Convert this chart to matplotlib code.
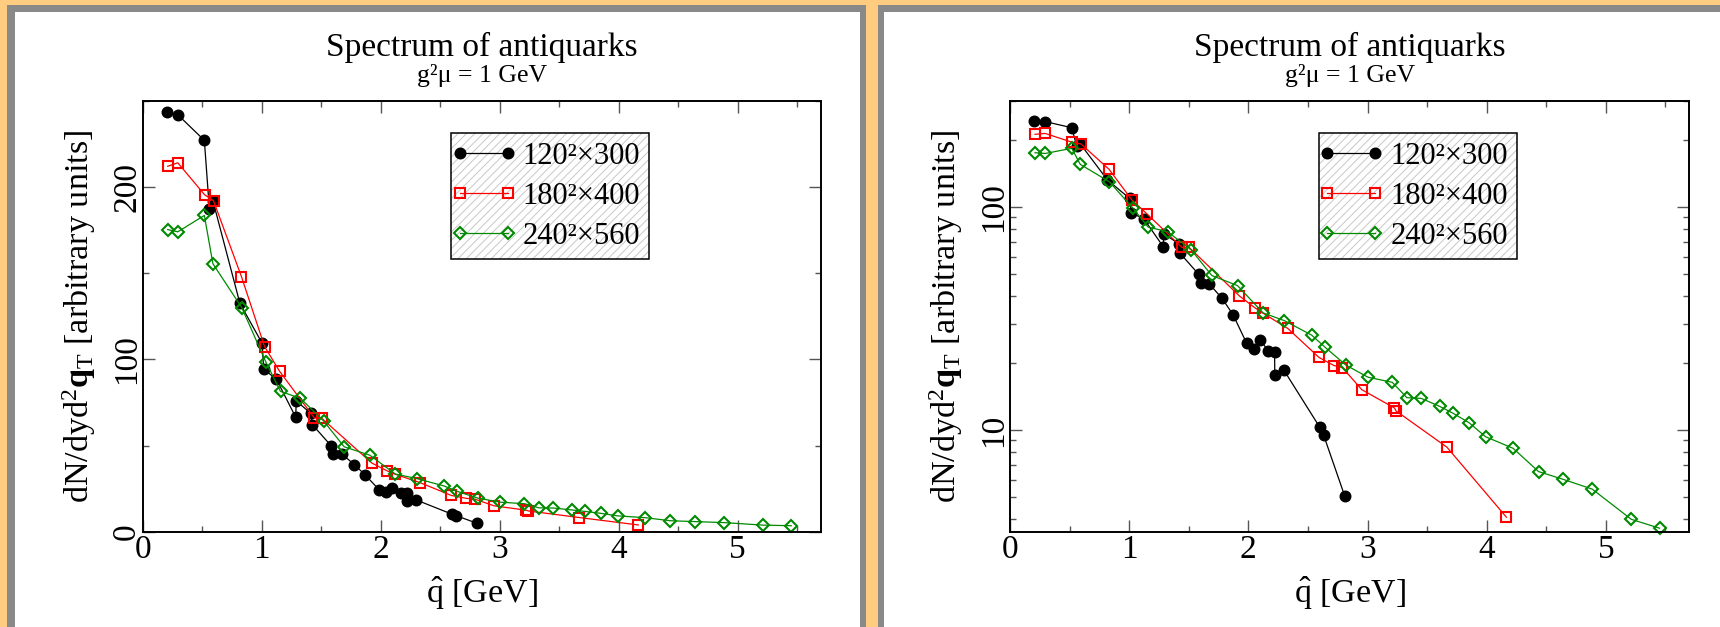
import matplotlib
matplotlib.use("Agg")
import matplotlib.pyplot as plt
from matplotlib.patches import Rectangle
from matplotlib.lines import Line2D
from matplotlib.legend_handler import HandlerLine2D
from matplotlib.ticker import MultipleLocator, FixedLocator, NullFormatter, FuncFormatter

# ---------------- data ----------------
black_x = [0.205, 0.293, 0.518, 0.56, 0.59, 0.817, 1.003, 1.017, 1.124, 1.286, 1.29,
           1.414, 1.425, 1.582, 1.603, 1.672, 1.778, 1.871, 1.985, 2.048, 2.098, 2.168,
           2.22, 2.222, 2.298, 2.6, 2.632, 2.81]
black_y = [243.5, 242, 227, 187.5, 192, 132.5, 109.5, 94.4, 88.5, 66.5, 76,
           68.7, 62.3, 50.1, 45.5, 45.3, 39.1, 33, 24.6, 23.1, 25.4, 22.7,
           22.4, 17.7, 18.6, 10.3, 9.5, 5.05]

red_x = [0.21, 0.295, 0.52, 0.595, 0.83, 1.024, 1.15, 1.443, 1.503, 1.925, 2.055,
         2.122, 2.331, 2.593, 2.719, 2.789, 2.952, 3.225, 3.24, 3.666, 4.165]
red_y = [212, 214, 195.5, 192, 148, 107.5, 93.2, 66, 66, 40, 35.4,
         33.5, 28.6, 21.2, 19.5, 19.1, 15.2, 12.6, 12.2, 8.4, 4.08]

green_x = [0.21, 0.295, 0.518, 0.59, 0.833, 1.033, 1.158, 1.325, 1.522, 1.693, 1.909,
           2.123, 2.302, 2.531, 2.642, 2.818, 3.003, 3.208, 3.33, 3.45, 3.605, 3.72,
           3.853, 3.99, 4.222, 4.435, 4.64, 4.885, 5.213, 5.45]
green_y = [175.3, 174, 183.5, 155.5, 130, 98.8, 81.5, 77.5, 64.2, 49.4, 44.5,
           33.6, 31, 26.7, 23.6, 19.6, 17.3, 16.4, 14.0, 13.9, 12.8, 11.9,
           10.8, 9.36, 8.3, 6.53, 6.03, 5.45, 3.99, 3.64]

series_labels = ["120²×300", "180²×400", "240²×560"]
title_text = "Spectrum of antiquarks"
subtitle_text = "g²μ = 1 GeV"
xlabel_text = r"$\hat{\mathrm{q}}$ [GeV]"
ylabel_text = r"dN/dyd$^{2}$$\mathbf{q}_{\mathrm{T}}$ [arbitrary units]"
lin_yticks = [0, 100, 200]
log_yticks = [10, 100]
xticks = [0, 1, 2, 3, 4, 5]

# ---------------- style ----------------
plt.rcParams["font.family"] = ["Liberation Serif", "DejaVu Serif"]
plt.rcParams["mathtext.fontset"] = "custom"
plt.rcParams["mathtext.rm"] = "Liberation Serif"
plt.rcParams["mathtext.it"] = "Liberation Serif:italic"
plt.rcParams["mathtext.bf"] = "Liberation Serif:bold"
plt.rcParams["hatch.linewidth"] = 0.7

W, H = 1720, 627
fig = plt.figure(figsize=(W / 100, H / 100), dpi=100)
fig.patch.set_facecolor("#FFCC80")


def px_rect(x0, y0, x1, y1, color):
    fig.add_artist(Rectangle((x0 / W, 1 - y1 / H), (x1 - x0) / W, (y1 - y0) / H,
                             transform=fig.transFigure, facecolor=color,
                             edgecolor="none", zorder=-10))


GRAY = "#898989"
px_rect(7, 5, 866, H + 5, GRAY)
px_rect(15, 12, 860, H + 5, "white")
px_rect(878, 5, W + 5, H + 5, GRAY)
px_rect(884, 12, W + 5, H + 5, "white")

AX_TOP, AX_BOT = 100.7, 532.0
axes_px = [(142.7, 821.0), (1010.0, 1689.3)]

styles = [
    dict(color="black", marker="o", markersize=7.6, markerfacecolor="black",
         markeredgecolor="black", linewidth=0.9),
    dict(color="#ff0000", marker="s", markersize=7.8, markerfacecolor="none",
         markeredgecolor="#ff0000", markeredgewidth=1.5, linewidth=0.9),
    dict(color="#008a00", marker="D", markersize=6.3, markerfacecolor="none",
         markeredgecolor="#008a00", markeredgewidth=1.5, linewidth=0.9),
]
data = [(black_x, black_y), (red_x, red_y), (green_x, green_y)]

axes = []
for i, (l, r) in enumerate(axes_px):
    ax = fig.add_axes([l / W, (H - AX_BOT) / H, (r - l) / W, (AX_BOT - AX_TOP) / H])
    axes.append(ax)
    handles = []
    for (xs, ys), st, lab in zip(data, styles, series_labels):
        h, = ax.plot(xs, ys, label=lab, clip_on=False, **st)
        handles.append(h)
    ax.set_xlim(0, 5.7)
    ax.xaxis.set_major_locator(FixedLocator(xticks))
    ax.xaxis.set_minor_locator(MultipleLocator(0.5))
    if i == 0:
        ax.set_ylim(0, 250)
        ax.yaxis.set_major_locator(FixedLocator(lin_yticks))
        ax.yaxis.set_minor_locator(MultipleLocator(50))
    else:
        ax.set_yscale("log")
        ax.set_ylim(3.5, 300)
        ax.yaxis.set_major_locator(FixedLocator(log_yticks))
        ax.yaxis.set_minor_locator(FixedLocator([4, 5, 6, 7, 8, 9, 20, 30, 40, 50,
                                                 60, 70, 80, 90, 200, 300]))
        ax.yaxis.set_minor_formatter(NullFormatter())
        ax.yaxis.set_major_formatter(FuncFormatter(lambda v, p: f"{int(round(v))}"))
    for sp in ax.spines.values():
        sp.set_linewidth(1.4)
    ax.tick_params(which="both", direction="in", top=True, right=True,
                   color="#555555", width=1.0, labelsize=24)
    ax.tick_params(which="major", length=8.6)
    ax.tick_params(which="minor", length=4.3)
    ax.tick_params(axis="x", pad=1.5)
    ax.tick_params(axis="y", pad=0.5)
    for t in ax.get_yticklabels():
        t.set_rotation(90)
        t.set_va("center")

    ax.set_xlabel(xlabel_text, fontsize=24.5)
    ax.xaxis.set_label_coords(0.5, -0.098)
    ax.set_ylabel(ylabel_text, fontsize=24.6)
    ax.yaxis.set_label_coords(-0.066, 0.5)

    ax.text(0.5, 1.1036, title_text, transform=ax.transAxes, ha="center",
            va="baseline", fontsize=24)
    ax.text(0.5, 1.0434, subtitle_text, transform=ax.transAxes, ha="center",
            va="baseline", fontsize=18.5)

    leg = ax.legend(handles=handles, loc="upper left",
                    bbox_to_anchor=(0.4545, 0.9245), borderaxespad=0,
                    fontsize=22, numpoints=2, handlelength=1.57,
                    handletextpad=0.5, borderpad=0.28, labelspacing=0.36,
                    fancybox=False, framealpha=1,
                    handler_map={Line2D: HandlerLine2D(marker_pad=0.0, numpoints=2)})
    fr = leg.get_frame()
    fr.set_facecolor("white")
    fr.set_edgecolor("#c8c8c8")
    fr.set_hatch("////")
    fr.set_linewidth(0.0)
    ax._my_leg = leg

fig.canvas.draw()
renderer = fig.canvas.get_renderer()
for ax in axes:
    bb = ax._my_leg.get_frame().get_window_extent(renderer)
    bb = bb.transformed(ax.transAxes.inverted())
    ax.add_patch(Rectangle((bb.x0, bb.y0), bb.width, bb.height, transform=ax.transAxes,
                           fill=False, edgecolor="black", linewidth=1.1,
                           zorder=10, clip_on=False))

fig.savefig("out.png", dpi=100, facecolor=fig.get_facecolor())
